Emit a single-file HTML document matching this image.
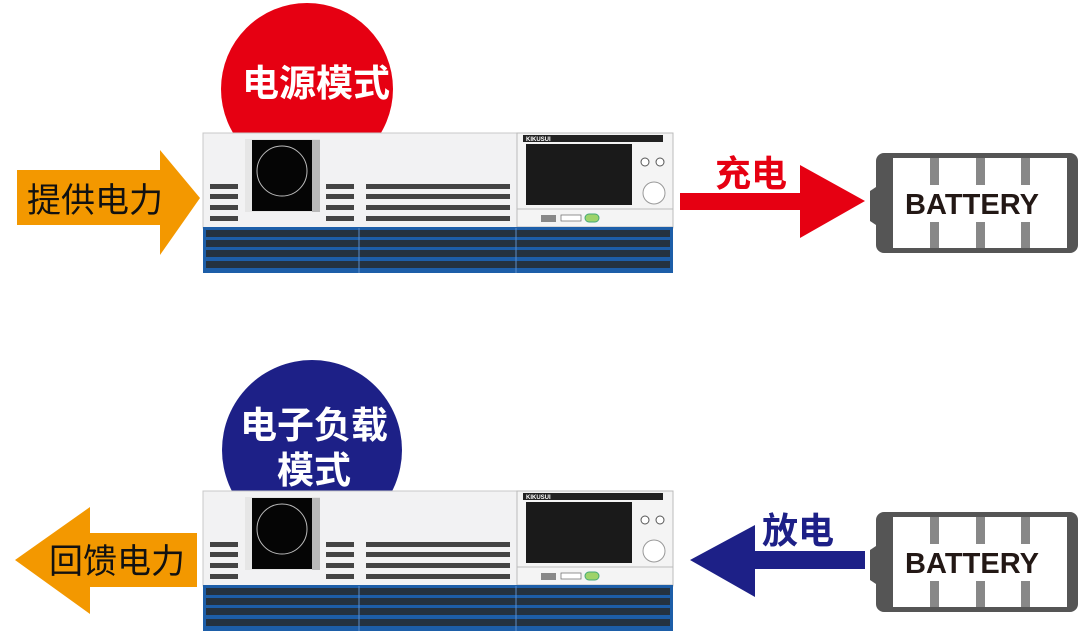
<!DOCTYPE html>
<html><head><meta charset="utf-8"><style>
html,body{margin:0;padding:0;background:#fff;width:1080px;height:631px;overflow:hidden}
svg text{font-family:"Liberation Sans","Noto Sans CJK SC",sans-serif}
</style></head><body>
<svg width="1080" height="631" viewBox="0 0 1080 631" xmlns="http://www.w3.org/2000/svg">
<defs>
<g id="dev">
  <rect x="203" y="133" width="470" height="95" fill="#f2f2f3" stroke="#c8c8c8"/>
  <rect x="245" y="139" width="75" height="73" fill="#e6e6e6"/>
  <rect x="252" y="140" width="60" height="71" fill="#050505"/>
  <rect x="312" y="140" width="8" height="72" fill="#b8b8b8"/>
  <circle cx="282" cy="171" r="25" fill="none" stroke="#bbb" stroke-width="1"/>
  <g fill="#444">
    <rect x="210" y="184" width="28" height="5"/><rect x="210" y="194" width="28" height="5"/><rect x="210" y="205" width="28" height="5"/><rect x="210" y="216" width="28" height="5"/>
    <rect x="326" y="184" width="28" height="5"/><rect x="326" y="194" width="28" height="5"/><rect x="326" y="205" width="28" height="5"/><rect x="326" y="216" width="28" height="5"/>
    <rect x="366" y="184" width="144" height="5"/><rect x="366" y="194" width="144" height="5"/><rect x="366" y="205" width="144" height="5"/><rect x="366" y="216" width="144" height="5"/>
  </g>
  <rect x="517" y="133" width="156" height="76" fill="#f4f4f4" stroke="#bbb"/>
  <rect x="523" y="135" width="140" height="7" fill="#222"/>
  <text x="526" y="141" font-size="6" fill="#fff" font-weight="bold">KIKUSUI</text>
  <rect x="526" y="144" width="106" height="61" fill="#1a1a1a"/>
  <circle cx="645" cy="162" r="4" fill="#fff" stroke="#555"/>
  <circle cx="660" cy="162" r="4" fill="#fff" stroke="#555"/>
  <circle cx="654" cy="193" r="11" fill="#fff" stroke="#999"/>
  <rect x="517" y="209" width="156" height="18" fill="#f4f4f4" stroke="#bbb"/>
  <rect x="541" y="215" width="15" height="7" fill="#888"/>
  <rect x="561" y="215" width="20" height="6" fill="#fff" stroke="#666" stroke-width="0.7"/>
  <rect x="585" y="214" width="14" height="8" rx="4" fill="#9ed36a" stroke="#4a7"/>
  <rect x="203" y="227" width="470" height="46" fill="#1d5ea8"/>
  <g fill="#243240">
    <rect x="206" y="230" width="464" height="7"/><rect x="206" y="240" width="464" height="7"/><rect x="206" y="250" width="464" height="7"/><rect x="206" y="261" width="464" height="7"/>
  </g>
  <g stroke="#5a8cc8" stroke-width="1"><line x1="359" y1="228" x2="359" y2="273"/><line x1="516" y1="228" x2="516" y2="273"/></g>
</g>
<g id="bat">
  <path d="M884,153 h186 a8,8 0 0 1 8,8 v84 a8,8 0 0 1 -8,8 h-186 a8,8 0 0 1 -8,-8 v-20 l-6,-4 v-30 l6,-4 v-26 a8,8 0 0 1 8,-8 z" fill="#555"/>
  <rect x="893" y="158" width="174" height="90" fill="#fff"/>
  <g fill="#888">
    <rect x="930" y="158" width="9" height="27"/><rect x="976" y="158" width="9" height="27"/><rect x="1021" y="158" width="9" height="27"/>
    <rect x="930" y="222" width="9" height="26"/><rect x="976" y="222" width="9" height="26"/><rect x="1021" y="222" width="9" height="26"/>
  </g>
  <text x="972" y="214" font-size="29" font-weight="bold" fill="#231815" text-anchor="middle" textLength="134">BATTERY</text>
</g>
</defs>

<circle cx="307" cy="89" r="86" fill="#e60012"/>
<text x="316" y="96" font-size="37" font-weight="bold" fill="#fff" text-anchor="middle">电源模式</text>
<use href="#dev"/>
<polygon points="17,170 160,170 160,150 200,198 160,255 160,225 17,225" fill="#f39800"/>
<text x="95" y="212" font-size="34" fill="#111" text-anchor="middle">提供电力</text>
<polygon points="680,193 800,193 800,165 865,201 800,238 800,210 680,210" fill="#e60012"/>
<text x="751" y="186" font-size="36" font-weight="bold" fill="#e60012" text-anchor="middle">充电</text>
<use href="#bat"/>

<circle cx="312" cy="450" r="90" fill="#1d2087"/>
<text x="314" y="438" font-size="37" font-weight="bold" fill="#fff" text-anchor="middle">电子负载</text>
<text x="314" y="483" font-size="37" font-weight="bold" fill="#fff" text-anchor="middle">模式</text>
<use href="#dev" transform="translate(0,358)"/>
<polygon points="15,560 90,507 90,533 197,533 197,587 90,587 90,614" fill="#f39800"/>
<text x="117" y="573" font-size="34" fill="#111" text-anchor="middle">回馈电力</text>
<polygon points="690,560 755,525 755,551 865,551 865,569 755,569 755,597" fill="#1d2087"/>
<text x="798" y="543" font-size="36" font-weight="bold" fill="#1d2087" text-anchor="middle">放电</text>
<use href="#bat" transform="translate(0,359)"/>
</svg>
</body></html>
